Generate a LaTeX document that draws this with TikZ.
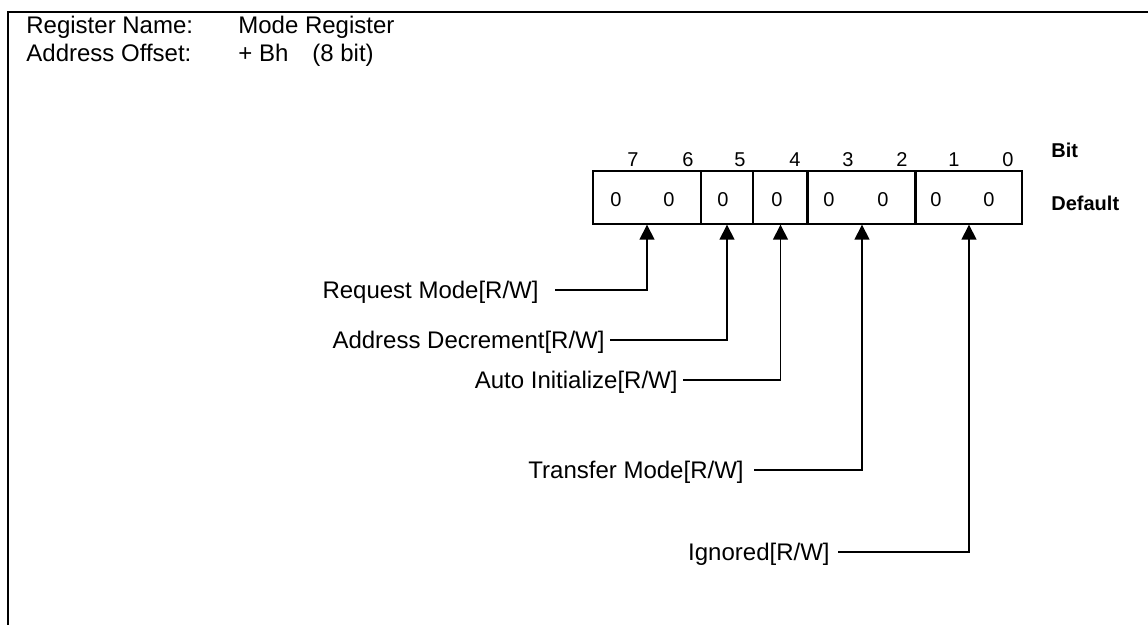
\documentclass[tikz,border=0pt]{standalone}
\usepackage{fontspec}
\setmainfont{Liberation Sans}
\usetikzlibrary{arrows.meta}
\tikzset{
  % One field of the register box
  regfield/.style={
    rectangle, draw=black, line width=0.7pt,
    minimum height=26.5pt, inner sep=0pt
  },
  % Bit numbers and default values
  bitnum/.style={
    font=\fontsize{10}{12}\selectfont, inner sep=0pt
  },
  % Bold row labels on the right
  rowlabel/.style={
    font=\bfseries\fontsize{10}{12}\selectfont, anchor=west, inner sep=0pt
  },
  % Header text (name / offset)
  hdrtext/.style={
    font=\fontsize{12}{14}\selectfont, anchor=base west, inner sep=0pt
  },
  % Field descriptions
  fieldlabel/.style={
    font=\fontsize{12}{14}\selectfont, anchor=east, inner sep=0pt,
    text height=8.6pt, text depth=0pt
  },
  % Pointer from description to field
  fieldarrow/.style={
    -{Triangle[length=7.5pt,width=7.5pt]}, line width=0.75pt
  }
}

\begin{document}
\begin{tikzpicture}[x=0.5pt, y=-0.5pt]
  \useasboundingbox (0,0) rectangle (1148,625);

  % ── FRAME ──────────────────────────────────────────────────────────────
  \draw[line width=0.7pt] (8,625) -- (8,12) -- (1148,12);

  % ── HEADER ─────────────────────────────────────────────────────────────
  \node[hdrtext] (name_key) at (26,34) {Register Name:};
  \node[hdrtext] (name_val) at (238,34) {Mode Register};
  \node[hdrtext] (off_key)  at (26,62) {Address Offset:};
  \node[hdrtext] (off_val)  at (238,62) {+ Bh};
  \node[hdrtext] (off_size) at (312,62) {(8 bit)};

  % ── REGISTER BOX ───────────────────────────────────────────────────────
  \node[regfield, minimum width=54pt]   (f76) at (647,197.5) {};
  \node[regfield, minimum width=26pt]   (f5)  at (727,197.5) {};
  \node[regfield, minimum width=27.5pt] (f4)  at (780.5,197.5) {};
  \node[regfield, minimum width=54pt]   (f32) at (862,197.5) {};
  \node[regfield, minimum width=53pt]   (f10) at (969,197.5) {};

  % heavier dividers between the two-bit fields
  \draw[line width=1.1pt] (f32.north west) -- (f32.south west);
  \draw[line width=1.1pt] (f10.north west) -- (f10.south west);

  % bit numbers above the box
  \foreach \b/\x in {7/633, 6/688, 5/740, 4/795, 3/848, 2/902, 1/954, 0/1008}
    \node[bitnum] (bit\b) at (\x,160) {\b};

  % default values inside the box
  \foreach \b/\x in {7/616, 6/669, 5/723, 4/777, 3/829, 2/883, 1/936, 0/989}
    \node[bitnum] (def\b) at (\x,200) {0};

  \node[rowlabel] (bit_lbl) at (1051,150) {Bit};
  \node[rowlabel] (def_lbl) at (1051,203) {Default};

  % ── FIELD DESCRIPTIONS ─────────────────────────────────────────────────
  \node[fieldlabel] (req)  at (539,290) {Request Mode[R/W]};
  \node[fieldlabel] (adec) at (605,340) {Address Decrement[R/W]};
  \node[fieldlabel] (ainit) at (678,380) {Auto Initialize[R/W]};
  \node[fieldlabel] (xfer) at (744,470) {Transfer Mode[R/W]};
  \node[fieldlabel] (ign)  at (830,552) {Ignored[R/W]};

  % ── ARROWS: descriptions → fields ──────────────────────────────────────
  \draw[fieldarrow] (req.east) ++(16,0) -| (f76.south);
  \draw[fieldarrow] (adec.east) ++(5,0) -| (f5.south);
  \draw[fieldarrow] (ainit.east) ++(5,0) -| (f4.south);
  \draw[fieldarrow] (xfer.east) ++(10,0) -| (f32.south);
  \draw[fieldarrow] (ign.east) ++(8,0) -| (f10.south);

\end{tikzpicture}
\end{document}
